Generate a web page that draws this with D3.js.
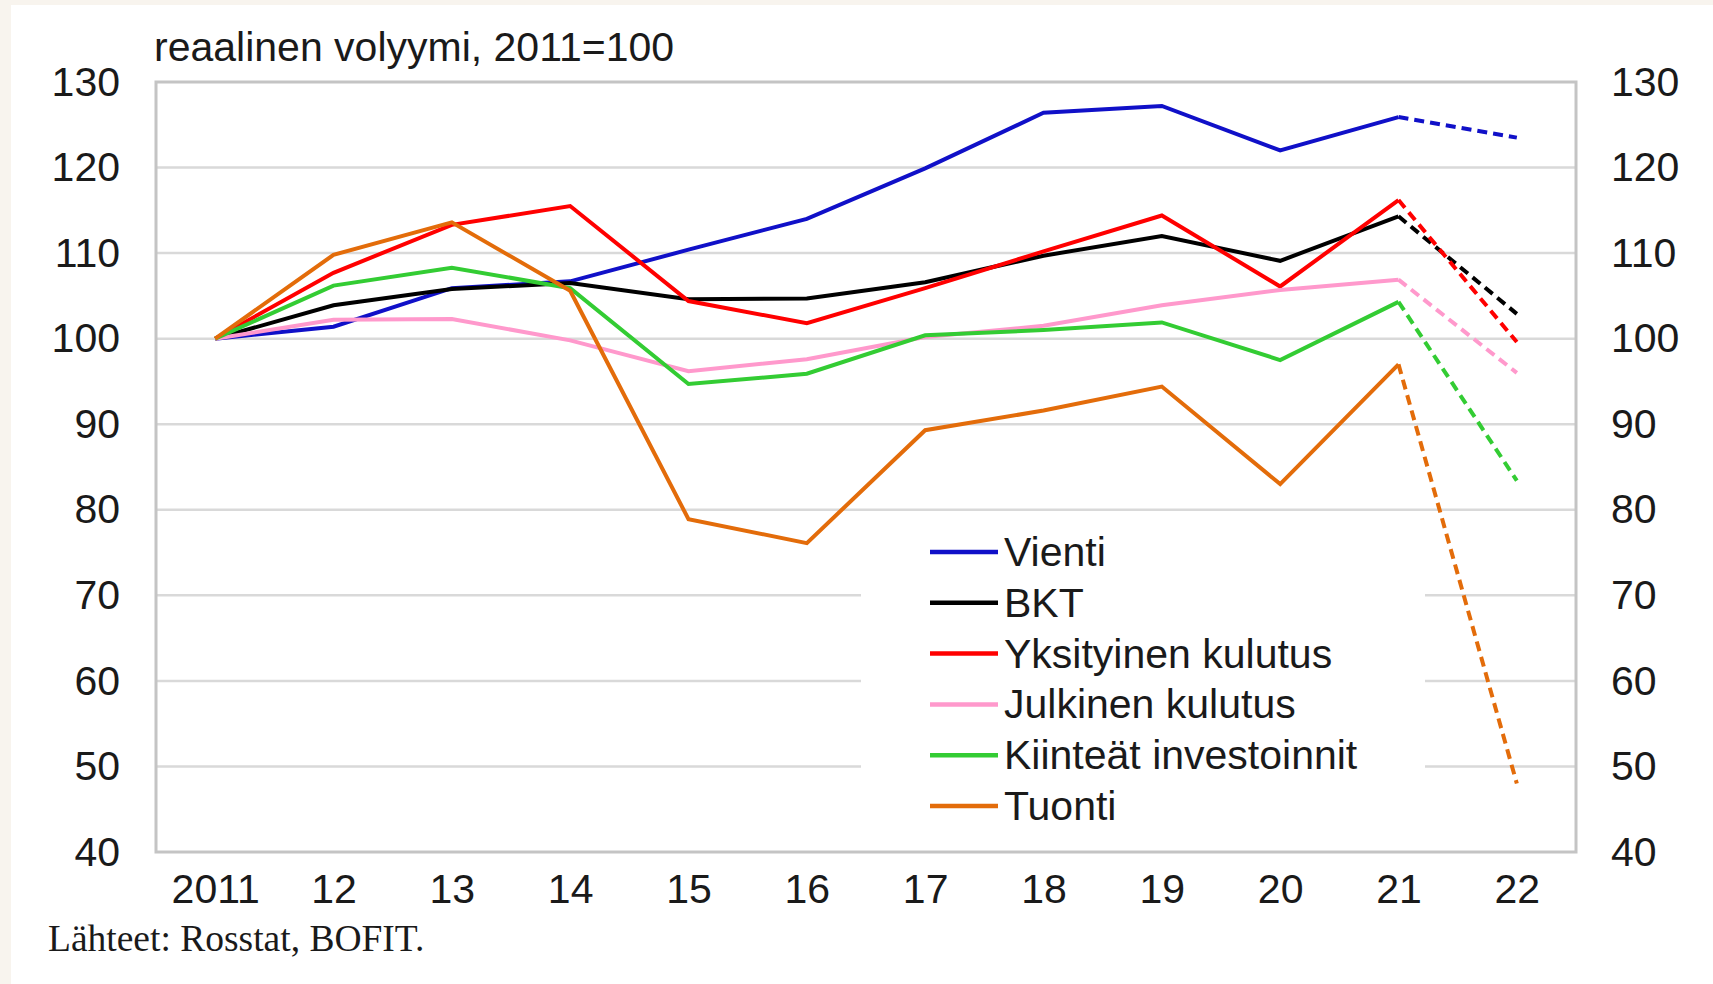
<!DOCTYPE html>
<html>
<head>
<meta charset="utf-8">
<script src="https://cdn.jsdelivr.net/npm/d3@7"></script>
<style>
  body { margin: 0; background: #ffffff; }
  svg { display: block; }
  text { font-family: "Liberation Sans", Arial, sans-serif; fill: #1a1a1a; }
</style>
</head>
<body>
<svg id="chart" width="1713" height="984"></svg>
<script>
// years on the x axis
var years = ["2011", "12", "13", "14", "15", "16", "17", "18", "19", "20", "21", "22"];
var yTicks = [40, 50, 60, 70, 80, 90, 100, 110, 120, 130];

// real volume, 2011 = 100 (last point is a forecast, drawn dashed)
var vienti      = [100, 101.4, 105.9, 106.7, 110.4, 114.0, 119.9, 126.4, 127.2, 122.0, 125.9, 123.5];
var bkt         = [100, 103.9, 105.8, 106.5, 104.6, 104.7, 106.6, 109.7, 112.0, 109.1, 114.3, 102.9];
var yksityinen  = [100, 107.7, 113.3, 115.5, 104.4, 101.8, 105.9, 110.2, 114.4, 106.1, 116.2, 99.6];
var julkinen    = [100, 102.2, 102.3, 99.8, 96.2, 97.6, 100.2, 101.5, 103.9, 105.7, 106.9, 96.0];
var kiinteat    = [100, 106.2, 108.3, 105.9, 94.7, 95.9, 100.4, 101.0, 101.9, 97.5, 104.3, 83.4];
var tuonti      = [100, 109.8, 113.6, 105.6, 78.9, 76.1, 89.3, 91.6, 94.4, 83.0, 97.0, 48.0];

var seriesNames  = ["Vienti", "BKT", "Yksityinen kulutus", "Julkinen kulutus", "Kiinteät investoinnit", "Tuonti"];
var seriesValues = [vienti, bkt, yksityinen, julkinen, kiinteat, tuonti];
var seriesColors = ["#1010c8", "#000000", "#ff0000", "#ff99cc", "#33cc33", "#e36c0a"];

function drawChart() {
    var svg = d3.select("#chart");

    // cream frame at top and left edges
    svg.append("rect").attr("x", 0).attr("y", 0).attr("width", 1713).attr("height", 5).attr("fill", "#f8f4ee");
    svg.append("rect").attr("x", 0).attr("y", 0).attr("width", 11).attr("height", 984).attr("fill", "#f8f4ee");

    var m = {left: 156, right: 1576, top: 82, bottom: 852};

    var x = d3.scalePoint().domain(years).range([m.left, m.right]).padding(0.5);
    var y = d3.scaleLinear().domain([40, 130]).range([m.bottom, m.top]);

    // gridlines
    svg.append("g").selectAll("line")
        .data(yTicks.filter(function(d) { return d > 40 && d < 130; }))
        .enter().append("line")
        .attr("x1", m.left).attr("x2", m.right)
        .attr("y1", function(d) { return y(d); })
        .attr("y2", function(d) { return y(d); })
        .attr("stroke", "#d9d9d9")
        .attr("stroke-width", 2.5);

    // plot frame
    svg.append("rect")
        .attr("x", m.left).attr("y", m.top)
        .attr("width", m.right - m.left).attr("height", m.bottom - m.top)
        .attr("fill", "none")
        .attr("stroke", "#c4c4c4")
        .attr("stroke-width", 3);

    // legend box covers gridlines
    svg.append("rect")
        .attr("x", 861).attr("y", 520)
        .attr("width", 564).attr("height", 326)
        .attr("fill", "#ffffff");

    // axes
    var fontSize = 41;
    var yLeft = svg.append("g")
        .attr("transform", "translate(" + m.left + ",0)")
        .call(d3.axisLeft(y).tickValues(yTicks).tickSize(0).tickPadding(36));
    var yRight = svg.append("g")
        .attr("transform", "translate(" + m.right + ",0)")
        .call(d3.axisRight(y).tickValues(yTicks).tickSize(0).tickPadding(35));
    var xAxis = svg.append("g")
        .attr("transform", "translate(0," + m.bottom + ")")
        .call(d3.axisBottom(x).tickSize(0).tickPadding(22));

    [yLeft, yRight, xAxis].forEach(function(g) {
        g.select(".domain").remove();
        g.selectAll("text")
            .style("font-family", "'Liberation Sans', Arial, sans-serif")
            .style("font-size", fontSize + "px")
            .attr("fill", "#1a1a1a");
    });

    // series lines: solid to 2021, dashed 2021-22
    var line = d3.line()
        .x(function(d) { return x(d.year); })
        .y(function(d) { return y(d.value); });

    seriesValues.forEach(function(vals, i) {
        var pts = vals.map(function(v, j) { return { year: years[j], value: v }; });
        svg.append("path")
            .datum(pts.slice(0, 11))
            .attr("d", line)
            .attr("fill", "none")
            .attr("stroke", seriesColors[i])
            .attr("stroke-width", 4)
            .attr("stroke-linejoin", "miter");
        svg.append("path")
            .datum(pts.slice(10))
            .attr("d", line)
            .attr("fill", "none")
            .attr("stroke", seriesColors[i])
            .attr("stroke-width", 4)
            .attr("stroke-dasharray", "10,6");
    });

    // legend
    var legend = svg.append("g");
    seriesNames.forEach(function(name, i) {
        var ly = 552 + i * 50.8;
        legend.append("line")
            .attr("x1", 930).attr("x2", 998)
            .attr("y1", ly).attr("y2", ly)
            .attr("stroke", seriesColors[i])
            .attr("stroke-width", 4.5);
        legend.append("text")
            .attr("x", 1004).attr("y", ly + 14)
            .style("font-size", fontSize + "px")
            .text(name);
    });

    // title and source
    svg.append("text")
        .attr("x", 154).attr("y", 61)
        .style("font-size", fontSize + "px")
        .text("reaalinen volyymi, 2011=100");

    svg.append("text")
        .attr("x", 48).attr("y", 951)
        .style("font-family", "'Liberation Serif', 'Times New Roman', serif")
        .style("font-size", "37.5px")
        .text("Lähteet: Rosstat, BOFIT.");
}

drawChart();
</script>
</body>
</html>
